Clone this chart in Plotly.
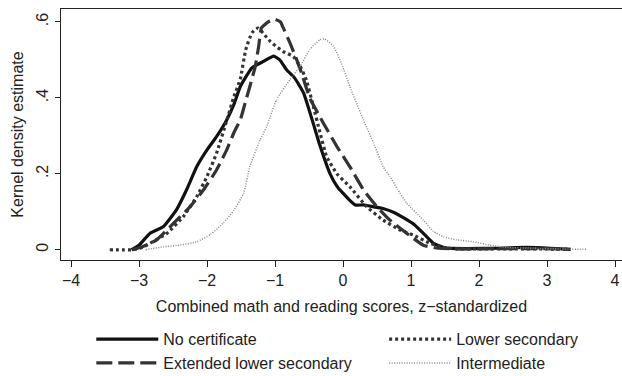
import plotly.graph_objects as go

# ---- data ----
nocert_x = [-3.11, -3.0, -2.84, -2.64, -2.45, -2.30, -2.15, -2.0, -1.86, -1.71, -1.6, -1.51, -1.34,
            -1.17, -1.02, -0.93, -0.83, -0.71, -0.58, -0.45, -0.34, -0.19, -0.08, 0.0, 0.1, 0.18,
            0.3, 0.45, 0.6, 0.75, 0.9, 1.05, 1.2, 1.33, 1.5, 1.8, 2.3, 2.7, 3.05, 3.34]
nocert_y = [0, 0.012, 0.043, 0.061, 0.105, 0.158, 0.219, 0.263, 0.298, 0.342, 0.385, 0.43, 0.479,
            0.496, 0.510, 0.50, 0.474, 0.452, 0.413, 0.34, 0.275, 0.20, 0.165, 0.149, 0.13, 0.118,
            0.118, 0.113, 0.108, 0.098, 0.083, 0.066, 0.04, 0.017, 0.005, 0.003, 0.004, 0.006, 0.004, 0.001]

ext_x = [-3.1, -2.95, -2.74, -2.49, -2.25, -2.05, -1.86, -1.71, -1.6, -1.51, -1.44, -1.37, -1.29,
         -1.24, -1.2, -1.1, -1.0, -0.92, -0.88, -0.78, -0.68, -0.6, -0.49, -0.29, -0.09, 0.10,
         0.30, 0.50, 0.69, 0.94, 1.18, 1.4, 1.8, 2.3, 2.8, 3.3]
ext_y = [0, 0.008, 0.026, 0.07, 0.113, 0.158, 0.21, 0.263, 0.31, 0.342, 0.386, 0.43, 0.483,
         0.536, 0.584, 0.60, 0.607, 0.60, 0.585, 0.545, 0.50, 0.46, 0.40, 0.334, 0.272, 0.219,
         0.158, 0.113, 0.078, 0.043, 0.012, 0.004, 0.002, 0.003, 0.003, 0.002]

lowsec_x = [-3.43, -3.11, -2.95, -2.84, -2.59, -2.35, -2.15, -2.0, -1.86, -1.71, -1.61, -1.51, -1.43,
            -1.34, -1.25, -1.15, -1.07, -0.98, -0.88, -0.73, -0.63, -0.54, -0.44, -0.34, -0.24,
            -0.09, 0.10, 0.35, 0.59, 0.84, 1.03, 1.28, 1.43, 1.6, 2.0, 2.5, 3.0, 3.35]
lowsec_y = [0, 0, 0.006, 0.017, 0.043, 0.087, 0.14, 0.193, 0.254, 0.34, 0.40, 0.45, 0.527,
            0.571, 0.584, 0.565, 0.549, 0.535, 0.522, 0.509, 0.483, 0.448, 0.38, 0.31, 0.245,
            0.20, 0.166, 0.113, 0.078, 0.052, 0.039, 0.017, 0.008, 0.003, 0.002, 0.002, 0.002, 0.001]

inter_x = [-2.9, -2.64, -2.4, -2.15, -1.95, -1.76, -1.6, -1.46, -1.37, -1.22, -1.12, -0.98, -0.78,
           -0.63, -0.49, -0.34, -0.27, -0.14, -0.02, 0.1, 0.2, 0.3, 0.45, 0.59, 0.69, 0.8, 0.94,
           1.18, 1.33, 1.48, 1.67, 1.92, 2.16, 2.41, 2.8, 3.2, 3.58]
inter_y = [0, 0.008, 0.012, 0.021, 0.04, 0.07, 0.105, 0.149, 0.219, 0.289, 0.325, 0.395, 0.448,
           0.483, 0.527, 0.553, 0.555, 0.536, 0.49, 0.43, 0.386, 0.342, 0.281, 0.219, 0.193, 0.16,
           0.122, 0.078, 0.048, 0.034, 0.026, 0.021, 0.012, 0.006, 0.004, 0.002, 0.001]

x_ticks = [-4, -3, -2, -1, 0, 1, 2, 3, 4]
x_ticktext = ["\u22124", "\u22123", "\u22122", "\u22121", "0", "1", "2", "3", "4"]
y_ticks = [0, 0.2, 0.4, 0.6]
y_ticktext = ["0", ".2", ".4", ".6"]

FONT = "Liberation Sans, Arial, Helvetica, sans-serif"

fig = go.Figure()
fig.add_trace(go.Scatter(x=nocert_x, y=nocert_y, mode="lines", name="No certificate",
                         line=dict(color="#111111", width=3.2, shape="spline", smoothing=0.4),
                         legend="legend"))
fig.add_trace(go.Scatter(x=ext_x, y=ext_y, mode="lines", name="Extended lower secondary",
                         line=dict(color="#333333", width=3.2, dash="16px,6px", shape="spline", smoothing=0.4),
                         legend="legend"))
fig.add_trace(go.Scatter(x=lowsec_x, y=lowsec_y, mode="lines", name="Lower secondary",
                         line=dict(color="#333333", width=3.2, dash="3px,3px", shape="spline", smoothing=0.4),
                         legend="legend2"))
fig.add_trace(go.Scatter(x=inter_x, y=inter_y, mode="lines", name="Intermediate",
                         line=dict(color="#8a8a8a", width=1.5, dash="1px,1.5px", shape="spline", smoothing=0.4),
                         legend="legend2"))

fig.update_layout(
    width=622, height=376,
    margin=dict(l=61, r=0, t=9, b=116, autoexpand=False),
    paper_bgcolor="white", plot_bgcolor="white",
    font=dict(family=FONT, size=16, color="#222222"),
    legend=dict(x=0.054, y=-0.248, xanchor="left", yanchor="top", orientation="v",
                font=dict(size=16), itemwidth=62, tracegroupgap=0, bgcolor="rgba(0,0,0,0)"),
    legend2=dict(x=0.576, y=-0.248, xanchor="left", yanchor="top", orientation="v",
                 font=dict(size=16), itemwidth=62, tracegroupgap=0, bgcolor="rgba(0,0,0,0)"),
)
fig.update_xaxes(
    range=[-4.147, 4.103], tickmode="array", tickvals=x_ticks, ticktext=x_ticktext,
    showgrid=False, zeroline=False, showline=True, linecolor="#222222", linewidth=1.3,
    mirror=True, ticks="outside", ticklen=6, tickwidth=1, tickcolor="#222222",
    tickfont=dict(size=16), automargin=False,
    title=dict(text="Combined math and reading scores, z\u2212standardized", font=dict(size=16), standoff=12),
)
fig.update_yaxes(
    range=[-0.027, 0.634], tickmode="array", tickvals=y_ticks, ticktext=y_ticktext,
    showgrid=False, zeroline=False, showline=True, linecolor="#222222", linewidth=1.3,
    ticks="outside", ticklen=5, tickwidth=1, tickcolor="#222222", tickangle=-90,
    tickfont=dict(size=16), automargin=False,
    title=dict(text="Kernel density estimate", font=dict(size=16), standoff=6),
)

fig.write_html("out.html", config={"displayModeBar": False},
               post_script="document.body.style.margin='0';document.body.style.overflow='hidden';")
